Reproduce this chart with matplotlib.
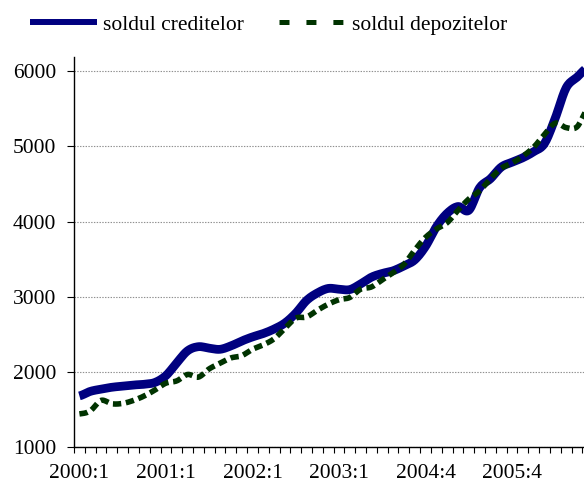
import numpy as np
import matplotlib
matplotlib.use('Agg')
import matplotlib.pyplot as plt
from matplotlib.lines import Line2D

plt.rcParams['font.family'] = ['Liberation Serif', 'DejaVu Serif']
plt.rcParams['lines.scale_dashes'] = False

# quarter labels shown every 8 categories
tick_labels = ['2000:1', '2001:1', '2002:1', '2003:1', '2004:4', '2005:4']
label_step = 8

# soldul creditelor / soldul depozitelor
credite = [1680, 1740, 1770, 1795, 1810, 1825, 1835, 1860, 1950, 2120,
           2280, 2335, 2315, 2300, 2345, 2410, 2465, 2510, 2570, 2650,
           2780, 2950, 3050, 3110, 3100, 3095, 3170, 3260, 3310, 3345,
           3410, 3490, 3670, 3930, 4110, 4200, 4150, 4450, 4570, 4725,
           4790, 4850, 4930, 5040, 5380, 5780, 5920, 6050]
depozite = [1440, 1480, 1620, 1575, 1580, 1620, 1680, 1760, 1850, 1880,
            1965, 1930, 2040, 2115, 2185, 2215, 2300, 2360, 2440, 2580,
            2715, 2730, 2820, 2900, 2960, 2990, 3100, 3130, 3225, 3320,
            3430, 3620, 3790, 3900, 3985, 4150, 4300, 4410, 4570, 4710,
            4780, 4870, 4990, 5160, 5310, 5250, 5260, 5500]


def smooth(vals, n=12):
    # catmull-rom through the points, like a spreadsheet "smoothed line"
    y = np.asarray(vals, dtype=float)
    p = np.concatenate([[y[0]], y, [y[-1]]])
    xs, ys = [], []
    t = np.linspace(0, 1, n, endpoint=False)
    for i in range(len(y) - 1):
        p0, p1, p2, p3 = p[i], p[i + 1], p[i + 2], p[i + 3]
        seg = 0.5 * (2 * p1 + (-p0 + p2) * t
                     + (2 * p0 - 5 * p1 + 4 * p2 - p3) * t ** 2
                     + (-p0 + 3 * p1 - 3 * p2 + p3) * t ** 3)
        xs.append(i + t)
        ys.append(seg)
    xs.append([len(y) - 1])
    ys.append([y[-1]])
    return np.concatenate(xs), np.concatenate(ys)


blue = '#000080'
green = '#003300'
fs = 15.5

fig = plt.figure(figsize=(5.84, 4.86), dpi=100)
ax = fig.add_axes([74 / 584, 39 / 486, 1 - 74 / 584, 390 / 486])

xb, yb = smooth(credite)
xg, yg = smooth(depozite)
ax.plot(xb, yb, color=blue, lw=6.3, solid_capstyle='butt', zorder=3)
ax.plot(xg, yg, color=green, lw=4.0, dashes=(6, 3.4), dash_capstyle='butt', zorder=4)

ax.set_xlim(-0.5, 46.65)
ax.set_ylim(1000, 6190)
ax.set_yticks([1000, 2000, 3000, 4000, 5000, 6000])
ax.yaxis.grid(True, color='#909090', linestyle=(0, (1, 1)), linewidth=0.8)
ax.set_axisbelow(True)

ax.set_xticks(np.arange(0, len(credite), label_step)[:len(tick_labels)])
ax.set_xticklabels(tick_labels)
ax.set_xticks(np.arange(-0.5, 47, 1), minor=True)
ax.tick_params(axis='x', which='major', length=0, pad=12.5, labelsize=fs)
ax.tick_params(axis='x', which='minor', length=4.2, width=0.8, direction='out')
ax.tick_params(axis='y', length=5, width=0.8, pad=8, labelsize=fs)

for s in ['top', 'right']:
    ax.spines[s].set_visible(False)
ax.spines['left'].set_linewidth(1)
ax.spines['bottom'].set_linewidth(1)

h1 = Line2D([], [], color=blue, lw=4.3, solid_capstyle='butt')
h2 = Line2D([], [], color=green, lw=3.6, dashes=(7.2, 12.2), dash_capstyle='butt')
fig.legend([h1, h2], ['soldul creditelor', 'soldul depozitelor'],
           loc='center left', bbox_to_anchor=(30 / 584, 1 - 25 / 486),
           ncol=2, frameon=False, fontsize=fs, handlelength=3.1,
           handletextpad=0.3, columnspacing=1.6, borderpad=0, borderaxespad=0)

fig.savefig('out.png', dpi=100)
